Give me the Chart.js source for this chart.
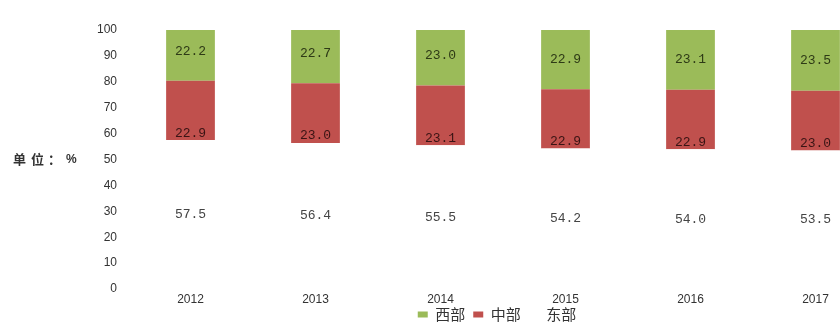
<!DOCTYPE html>
<html>
<head>
<meta charset="utf-8">
<script src="https://cdn.jsdelivr.net/npm/chart.js@4"></script>
<style>
    html, body { margin: 0; padding: 0; background: #fff; overflow: hidden; }
    #wrap { width: 880px; height: 323px; }
</style>
</head>
<body>
<div id="wrap"><canvas id="shareChart" width="880" height="323"></canvas></div>
<script>
const years = ["2012", "2013", "2014", "2015", "2016", "2017"];
const eastShare = [57.5, 56.4, 55.5, 54.2, 54.0, 53.5];
const centralShare = [22.9, 23.0, 23.1, 22.9, 22.9, 23.0];
const westShare = [22.2, 22.7, 23.0, 22.9, 23.1, 23.5];
const yTicks = [0, 10, 20, 30, 40, 50, 60, 70, 80, 90, 100];

const GREEN = "#9bbb59";
const RED = "#c0504d";

// value labels: east in the middle, central near its base, west in the middle
const barLabels = {
    id: "barLabels",
    afterDatasetsDraw(chart) {
        const ctx = chart.ctx;
        const y = chart.scales.y;
        ctx.save();
        ctx.font = "13px 'Liberation Mono', monospace";
        ctx.textAlign = "center";
        ctx.textBaseline = "middle";
        chart.getDatasetMeta(0).data.forEach((bar, i) => {
            ctx.fillStyle = "#444";
            ctx.fillText(eastShare[i].toFixed(1), bar.x, y.getPixelForValue(eastShare[i] / 2));
        });
        chart.getDatasetMeta(1).data.forEach((bar, i) => {
            ctx.fillStyle = "#3a1414";
            ctx.fillText(centralShare[i].toFixed(1), bar.x, y.getPixelForValue(eastShare[i]) - 7);
        });
        chart.getDatasetMeta(2).data.forEach((bar, i) => {
            const base = eastShare[i] + centralShare[i];
            ctx.fillStyle = "#2e3a16";
            ctx.fillText(westShare[i].toFixed(1), bar.x, y.getPixelForValue(base + westShare[i] / 2));
        });
        ctx.restore();
    },
    afterDraw(chart) {
        // unit note beside the 50 tick
        const ctx = chart.ctx;
        const ty = chart.scales.y.getPixelForValue(50);
        ctx.save();
        ctx.font = "bold 13px 'Noto Sans CJK SC', sans-serif";
        ctx.fillStyle = "#333";
        ctx.textBaseline = "middle";
        ctx.letterSpacing = "5px";
        ctx.fillText("单位", 13, ty);
        ctx.letterSpacing = "0px";
        ctx.fillText("：", 48, ty);
        ctx.font = "bold 12px 'Liberation Sans', sans-serif";
        ctx.fillText("%", 66, ty);
        ctx.restore();
    }
};

// move the legend under the middle of the plot, a little higher
const legendShift = {
    id: "legendShift",
    afterLayout(chart) {
        const lg = chart.legend;
        const dx = 497 - (lg.left + lg.right) / 2;
        lg.left += dx;
        lg.right += dx;
        lg.top -= 6;
        lg.bottom -= 6;
    }
};

new Chart(document.getElementById("shareChart"), {
    type: "bar",
    data: {
        labels: years,
        datasets: [
            { label: "东部", data: eastShare, backgroundColor: "#ffffff" },
            { label: "中部", data: centralShare, backgroundColor: RED },
            { label: "西部", data: westShare, backgroundColor: GREEN }
        ]
    },
    options: {
        responsive: false,
        animation: false,
        layout: { padding: { top: 30, right: 2, left: 0, bottom: -15 } },
        datasets: {
            bar: { categoryPercentage: 1, barPercentage: 0.39 }
        },
        scales: {
            x: {
                stacked: true,
                afterFit(scale) { scale.height = 16; },
                grid: { display: false, drawTicks: false },
                border: { display: false },
                ticks: { color: "#333", font: { family: "Liberation Sans", size: 12 }, padding: 3 }
            },
            y: {
                stacked: true,
                min: 0,
                max: 100,
                afterBuildTicks(scale) {
                    scale.ticks = yTicks.map(v => ({ value: v }));
                },
                afterFit(scale) { scale.width = 128; },
                grid: { display: false, drawTicks: false },
                border: { display: false },
                ticks: { color: "#333", font: { family: "Liberation Sans", size: 12 }, padding: 11 }
            }
        },
        plugins: {
            legend: {
                position: "bottom",
                reverse: true,
                labels: {
                    boxWidth: 10,
                    boxHeight: 6,
                    padding: 8,
                    color: "#333",
                    font: { family: "'Noto Sans CJK SC', sans-serif", size: 15 }
                }
            },
            tooltip: { enabled: false }
        }
    },
    plugins: [barLabels, legendShift]
});
</script>
</body>
</html>
